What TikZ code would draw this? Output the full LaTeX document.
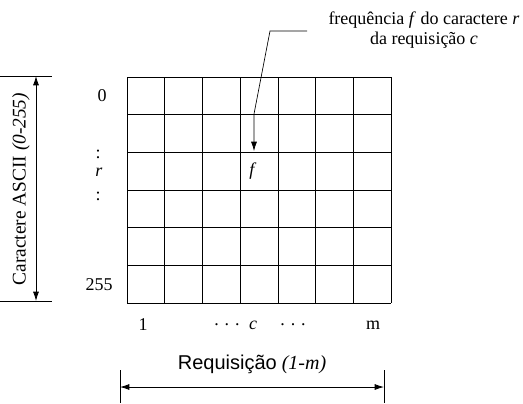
\documentclass[tikz,border=0pt]{standalone}
\usepackage{fontspec}
\setmainfont{Liberation Serif}
\newfontfamily\arialfont{Liberation Sans}
\usetikzlibrary{arrows.meta}
\tikzset{
  gridline/.style={line width=0.6pt},
  dimline/.style={line width=0.6pt, {Latex[length=7pt,width=4.5pt]}-{Latex[length=7pt,width=4.5pt]}},
  leadline/.style={line width=0.5pt, -{Latex[length=7pt,width=4.5pt]}},
  lbl/.style={inner sep=1pt, font=\fontsize{13.5}{15.5}\selectfont}
}
\begin{document}
\begin{tikzpicture}[x=0.75pt, y=-0.75pt]
  \useasboundingbox (0,0) rectangle (523,403);
  % matrix r x c
  \foreach \i in {0,...,7} \draw[gridline] ({127+37.75*\i},77) -- ++(0,226);
  \foreach \j in {0,...,6} \draw[gridline] (127,{77+37.67*\j}) -- ++(264.25,0);
  % row labels
  \node[lbl] (row0) at (102,96) {0};
  \node[lbl] (dotsA) at (98,154) {:};
  \node[lbl] (rowr) at (99,172) {\textit{r}};
  \node[lbl] (dotsB) at (98,196) {:};
  \node[lbl] (row255) at (99,285) {255};
  % column labels
  \foreach \x/\t/\n in {143/1/colone, 227/{.\,\,.\,\,.}/dotsC, 253/\textit{c}/colc, 293/{.\,\,.\,\,.}/dotsD, 373/m/colm}
    \node[lbl] (\n) at (\x,325) {\t};
  \node[lbl] (fval) at (253,171) {\textit{f}};
  % vertical axis
  \coordinate (vtop) at (36,76); \coordinate (vbot) at (36,301);
  \draw[gridline] (0,76) -- (52,76) (0,301) -- (52,301);
  \draw[dimline] (vtop) -- (vbot);
  \node[lbl, font=\fontsize{14.5}{16.5}\selectfont, rotate=90] (vaxis) at (21,189) {Caractere ASCII \textit{(0-255)}};
  % horizontal axis
  \coordinate (hleft) at (120,387); \coordinate (hright) at (384,387);
  \draw[gridline] (120,370) -- (120,403) (384,370) -- (384,403);
  \draw[dimline] (hleft) -- (hright);
  \node[lbl, font=\fontsize{15}{17}\selectfont] (haxis) at (252,364) {{\arialfont Requisição} \textit{(1-m)}};
  % annotation
  \node[lbl, align=center] (note) at (424,30) {frequência \textit{f} do caractere \textit{r}\\da requisição \textit{c}};
  \coordinate (lead) at (307,31); \coordinate (bendA) at (270,31);
  \coordinate (bendB) at (254,114); \coordinate (tip) at (254,151);
  \draw[leadline] (lead) -- (bendA) -- (bendB) -- (tip);
\end{tikzpicture}
\end{document}
